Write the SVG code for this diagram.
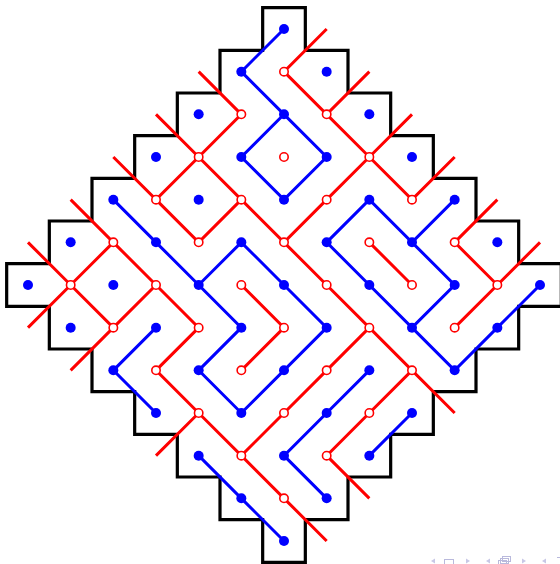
<svg xmlns="http://www.w3.org/2000/svg" width="560" height="564" viewBox="0 0 560 564">
<style>
.bd{fill:none;stroke:#000;stroke-width:3.2;stroke-linejoin:miter}
.bl{fill:none;stroke:#0000ff;stroke-width:3;stroke-linecap:butt;stroke-linejoin:miter}
.rl{fill:none;stroke:#ff0000;stroke-width:3;stroke-linecap:butt;stroke-linejoin:miter}
.b{fill:#0000ff}
.r{fill:#fff;stroke:#ff0000;stroke-width:1.6}
.nav{fill:#c8c8e6;stroke:none}
.navs{fill:none;stroke:#b9b9dc;stroke-width:1}
</style>
<rect width="560" height="564" fill="#fff"/>
<g id="boundary">
<path class="bd" d="M262.67,7.67 H305.33 V50.33 H348 V93 H390.67 V135.67 H433.33 V178.33 H476 V221 H518.67 V263.67 H561.33 V306.33 H518.67 V349 H476 V391.67 H433.33 V434.33 H390.67 V477 H348 V519.67 H305.33 V562.33 H262.67 V519.67 H220 V477 H177.33 V434.33 H134.67 V391.67 H92 V349 H49.33 V306.33 H6.67 V263.67 H49.33 V221 H92 V178.33 H134.67 V135.67 H177.33 V93 H220 V50.33 H262.67 Z"/>
</g>
<g id="connectors">
<path class="rl" d="M326.67,29 L284,71.67 L326.67,114.33 L369.33,71.67 M326.67,114.33 L369.33,157 L412,114.33 M369.33,157 L412,199.67 L454.67,157 M369.33,157 L326.67,199.67 L284,242.33 L241.33,199.67 L198.67,157 L241.33,114.33 L198.67,71.67 M198.67,157 L156,114.33 M198.67,157 L156,199.67 L113.33,157 M156,199.67 L198.67,242.33 L241.33,199.67 M284,242.33 L326.67,285 L369.33,327.67 L412,370.33 L454.67,413 M369.33,327.67 L326.67,370.33 L284,413 L241.33,455.67 L198.67,413 L156,455.67 M198.67,413 L156,370.33 L198.67,327.67 L156,285 L113.33,242.33 L70.67,199.67 M156,285 L113.33,327.67 L70.67,370.33 M113.33,242.33 L70.67,285 L28,242.33 M70.67,285 L28,327.67 M70.67,285 L113.33,327.67 M241.33,455.67 L284,498.33 L326.67,541 M412,370.33 L369.33,413 L326.67,455.67 L369.33,498.33"/>
<path class="rl" d="M241.33,285 L284,327.67 L241.33,370.33"/>
<path class="rl" d="M369.33,242.33 L412,285"/>
<path class="rl" d="M497.33,199.67 L454.67,242.33 L497.33,285 L540,242.33 M497.33,285 L454.67,327.67"/>
<path class="bl" d="M284,29 L241.33,71.67 L284,114.33 L241.33,157 L284,199.67 L326.67,157 L284,114.33"/>
<path class="bl" d="M113.33,199.67 L156,242.33 L198.67,285 L241.33,242.33 L284,285 L326.67,327.67 L284,370.33 L241.33,413 L198.67,370.33 L241.33,327.67 L198.67,285"/>
<path class="bl" d="M454.67,199.67 L412,242.33 L369.33,199.67 L326.67,242.33 L369.33,285 L412,327.67 L454.67,370.33 L497.33,327.67 L540,285 M412,242.33 L454.67,285 L412,327.67"/>
<path class="bl" d="M156,327.67 L113.33,370.33 L156,413"/>
<path class="bl" d="M369.33,370.33 L326.67,413 L284,455.67 L326.67,498.33"/>
<path class="bl" d="M412,413 L369.33,455.67"/>
<path class="bl" d="M198.67,455.67 L241.33,498.33 L284,541"/>
</g>
<g id="red-nodes">
<g id="r6-1"><circle class="r" cx="284" cy="71.67" r="4.2"/></g>
<g id="r5-2"><circle class="r" cx="241.33" cy="114.33" r="4.2"/></g>
<g id="r7-2"><circle class="r" cx="326.67" cy="114.33" r="4.2"/></g>
<g id="r4-3"><circle class="r" cx="198.67" cy="157" r="4.2"/></g>
<g id="r6-3"><circle class="r" cx="284" cy="157" r="4.2"/></g>
<g id="r8-3"><circle class="r" cx="369.33" cy="157" r="4.2"/></g>
<g id="r3-4"><circle class="r" cx="156" cy="199.67" r="4.2"/></g>
<g id="r5-4"><circle class="r" cx="241.33" cy="199.67" r="4.2"/></g>
<g id="r7-4"><circle class="r" cx="326.67" cy="199.67" r="4.2"/></g>
<g id="r9-4"><circle class="r" cx="412" cy="199.67" r="4.2"/></g>
<g id="r2-5"><circle class="r" cx="113.33" cy="242.33" r="4.2"/></g>
<g id="r4-5"><circle class="r" cx="198.67" cy="242.33" r="4.2"/></g>
<g id="r6-5"><circle class="r" cx="284" cy="242.33" r="4.2"/></g>
<g id="r8-5"><circle class="r" cx="369.33" cy="242.33" r="4.2"/></g>
<g id="r10-5"><circle class="r" cx="454.67" cy="242.33" r="4.2"/></g>
<g id="r1-6"><circle class="r" cx="70.67" cy="285" r="4.2"/></g>
<g id="r3-6"><circle class="r" cx="156" cy="285" r="4.2"/></g>
<g id="r5-6"><circle class="r" cx="241.33" cy="285" r="4.2"/></g>
<g id="r7-6"><circle class="r" cx="326.67" cy="285" r="4.2"/></g>
<g id="r9-6"><circle class="r" cx="412" cy="285" r="4.2"/></g>
<g id="r11-6"><circle class="r" cx="497.33" cy="285" r="4.2"/></g>
<g id="r2-7"><circle class="r" cx="113.33" cy="327.67" r="4.2"/></g>
<g id="r4-7"><circle class="r" cx="198.67" cy="327.67" r="4.2"/></g>
<g id="r6-7"><circle class="r" cx="284" cy="327.67" r="4.2"/></g>
<g id="r8-7"><circle class="r" cx="369.33" cy="327.67" r="4.2"/></g>
<g id="r10-7"><circle class="r" cx="454.67" cy="327.67" r="4.2"/></g>
<g id="r3-8"><circle class="r" cx="156" cy="370.33" r="4.2"/></g>
<g id="r5-8"><circle class="r" cx="241.33" cy="370.33" r="4.2"/></g>
<g id="r7-8"><circle class="r" cx="326.67" cy="370.33" r="4.2"/></g>
<g id="r9-8"><circle class="r" cx="412" cy="370.33" r="4.2"/></g>
<g id="r4-9"><circle class="r" cx="198.67" cy="413" r="4.2"/></g>
<g id="r6-9"><circle class="r" cx="284" cy="413" r="4.2"/></g>
<g id="r8-9"><circle class="r" cx="369.33" cy="413" r="4.2"/></g>
<g id="r5-10"><circle class="r" cx="241.33" cy="455.67" r="4.2"/></g>
<g id="r7-10"><circle class="r" cx="326.67" cy="455.67" r="4.2"/></g>
<g id="r6-11"><circle class="r" cx="284" cy="498.33" r="4.2"/></g>
</g>
<g id="blue-nodes">
<g id="b6-0"><circle class="b" cx="284" cy="29" r="5"/></g>
<g id="b5-1"><circle class="b" cx="241.33" cy="71.67" r="5"/></g>
<g id="b7-1"><circle class="b" cx="326.67" cy="71.67" r="5"/></g>
<g id="b4-2"><circle class="b" cx="198.67" cy="114.33" r="5"/></g>
<g id="b6-2"><circle class="b" cx="284" cy="114.33" r="5"/></g>
<g id="b8-2"><circle class="b" cx="369.33" cy="114.33" r="5"/></g>
<g id="b3-3"><circle class="b" cx="156" cy="157" r="5"/></g>
<g id="b5-3"><circle class="b" cx="241.33" cy="157" r="5"/></g>
<g id="b7-3"><circle class="b" cx="326.67" cy="157" r="5"/></g>
<g id="b9-3"><circle class="b" cx="412" cy="157" r="5"/></g>
<g id="b2-4"><circle class="b" cx="113.33" cy="199.67" r="5"/></g>
<g id="b4-4"><circle class="b" cx="198.67" cy="199.67" r="5"/></g>
<g id="b6-4"><circle class="b" cx="284" cy="199.67" r="5"/></g>
<g id="b8-4"><circle class="b" cx="369.33" cy="199.67" r="5"/></g>
<g id="b10-4"><circle class="b" cx="454.67" cy="199.67" r="5"/></g>
<g id="b1-5"><circle class="b" cx="70.67" cy="242.33" r="5"/></g>
<g id="b3-5"><circle class="b" cx="156" cy="242.33" r="5"/></g>
<g id="b5-5"><circle class="b" cx="241.33" cy="242.33" r="5"/></g>
<g id="b7-5"><circle class="b" cx="326.67" cy="242.33" r="5"/></g>
<g id="b9-5"><circle class="b" cx="412" cy="242.33" r="5"/></g>
<g id="b11-5"><circle class="b" cx="497.33" cy="242.33" r="5"/></g>
<g id="b0-6"><circle class="b" cx="28" cy="285" r="5"/></g>
<g id="b2-6"><circle class="b" cx="113.33" cy="285" r="5"/></g>
<g id="b4-6"><circle class="b" cx="198.67" cy="285" r="5"/></g>
<g id="b6-6"><circle class="b" cx="284" cy="285" r="5"/></g>
<g id="b8-6"><circle class="b" cx="369.33" cy="285" r="5"/></g>
<g id="b10-6"><circle class="b" cx="454.67" cy="285" r="5"/></g>
<g id="b12-6"><circle class="b" cx="540" cy="285" r="5"/></g>
<g id="b1-7"><circle class="b" cx="70.67" cy="327.67" r="5"/></g>
<g id="b3-7"><circle class="b" cx="156" cy="327.67" r="5"/></g>
<g id="b5-7"><circle class="b" cx="241.33" cy="327.67" r="5"/></g>
<g id="b7-7"><circle class="b" cx="326.67" cy="327.67" r="5"/></g>
<g id="b9-7"><circle class="b" cx="412" cy="327.67" r="5"/></g>
<g id="b11-7"><circle class="b" cx="497.33" cy="327.67" r="5"/></g>
<g id="b2-8"><circle class="b" cx="113.33" cy="370.33" r="5"/></g>
<g id="b4-8"><circle class="b" cx="198.67" cy="370.33" r="5"/></g>
<g id="b6-8"><circle class="b" cx="284" cy="370.33" r="5"/></g>
<g id="b8-8"><circle class="b" cx="369.33" cy="370.33" r="5"/></g>
<g id="b10-8"><circle class="b" cx="454.67" cy="370.33" r="5"/></g>
<g id="b3-9"><circle class="b" cx="156" cy="413" r="5"/></g>
<g id="b5-9"><circle class="b" cx="241.33" cy="413" r="5"/></g>
<g id="b7-9"><circle class="b" cx="326.67" cy="413" r="5"/></g>
<g id="b9-9"><circle class="b" cx="412" cy="413" r="5"/></g>
<g id="b4-10"><circle class="b" cx="198.67" cy="455.67" r="5"/></g>
<g id="b6-10"><circle class="b" cx="284" cy="455.67" r="5"/></g>
<g id="b8-10"><circle class="b" cx="369.33" cy="455.67" r="5"/></g>
<g id="b5-11"><circle class="b" cx="241.33" cy="498.33" r="5"/></g>
<g id="b7-11"><circle class="b" cx="326.67" cy="498.33" r="5"/></g>
<g id="b6-12"><circle class="b" cx="284" cy="541" r="5"/></g>
</g>
<g id="navigation">
<polygon class="nav" points="431,561 435,558.5 435,563.5"/>
<rect class="navs" x="444.5" y="559.5" width="9" height="6"/>
<polygon class="nav" points="466,558.5 470,561 466,563.5"/>
<polygon class="nav" points="486,561 490,558.5 490,563.5"/>
<rect class="navs" x="498.5" y="560.5" width="8" height="5"/>
<rect class="navs" x="500.5" y="558.5" width="8" height="5"/>
<rect class="navs" x="502.5" y="556.5" width="8" height="5"/>
<polygon class="nav" points="522,558.5 526,561 522,563.5"/>
<polygon class="nav" points="542,561 546,558.5 546,563.5"/>
<line class="navs" x1="557" y1="557.5" x2="560" y2="557.5"/>
</g>
</svg>
